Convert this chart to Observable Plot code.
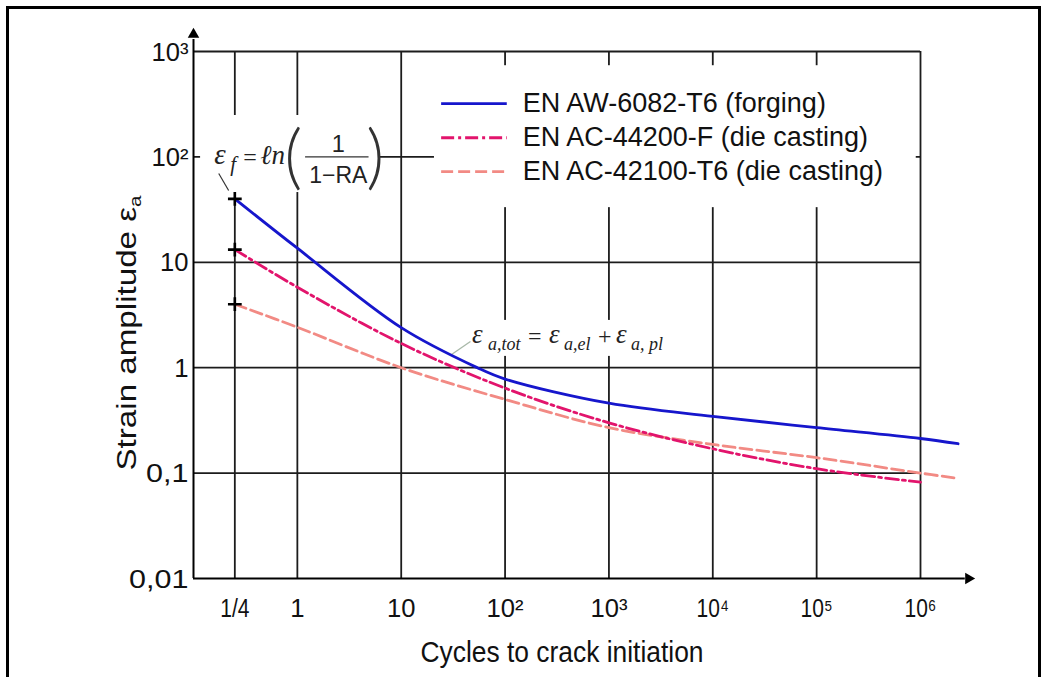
<!DOCTYPE html>
<html><head><meta charset="utf-8">
<script src="https://cdn.jsdelivr.net/npm/d3@7"></script>
<script src="https://cdn.jsdelivr.net/npm/@observablehq/plot@0.6"></script>
<style>
html,body{margin:0;padding:0;background:#fff;overflow:hidden}
#wrap{position:relative;width:1049px;height:677px;overflow:hidden}
#frame{position:absolute;left:6px;top:6px;width:1029px;height:720px;border:3px solid #000;pointer-events:none}
</style></head><body><div id="wrap"><div id="chart"></div><div id="frame"></div></div>
<script>
// ---- data ----
const seriesNames = ["EN AW-6082-T6 (forging)", "EN AC-44200-F (die casting)", "EN AC-42100-T6 (die casting)"];
const seriesColors = ["#1616cc", "#e2146c", "#f28a84"];
const seriesDash = [null, "13,4,3,4", "12,5"];

const cyclesAW6082 = [0.25, 1, 10, 54, 100, 1e3, 1e4, 1e5, 1e6, 2.3e6];
const strainAW6082 = [40, 13.6, 2.4, 1.0, 0.78, 0.46, 0.345, 0.27, 0.213, 0.19];

const cyclesAC44200 = [0.25, 1, 10, 100, 1e3, 1e4, 1e5, 1e6];
const strainAC44200 = [13.2, 5.8, 1.7, 0.64, 0.30, 0.17, 0.11, 0.082];

const cyclesAC42100 = [0.25, 1, 10, 100, 1e3, 1e4, 1e5, 1e6, 2.3e6];
const strainAC42100 = [4.0, 2.42, 1.0, 0.5, 0.27, 0.187, 0.14, 0.10, 0.089];

const xTickValues = [0.25, 1, 10, 100, 1e3, 1e4, 1e5, 1e6];
const xTickLabels = ["1/4", "1", "10", "10²", "10³", "10⁴", "10⁵", "10⁶"];
const yTickValues = [0.01, 0.1, 1, 10, 100, 1000];
const yTickLabels = ["0,01", "0,1", "1", "10", "10²", "10³"];
const yGridValues = [0.1, 1, 10, 100, 1000];

const xTitle = "Cycles to crack initiation";
const yTitle = "Strain amplitude εa";

// ---- tables ----
const table = (xs, ys, s) => xs.map((x, i) => ({N: x, eps: ys[i], series: s}));
const dataAW = table(cyclesAW6082, strainAW6082, seriesNames[0]);
const dataAC1 = table(cyclesAC44200, strainAC44200, seriesNames[1]);
const dataAC2 = table(cyclesAC42100, strainAC42100, seriesNames[2]);
const starts = [dataAW[0], dataAC1[0], dataAC2[0]];

const serif = "'Liberation Serif', 'Times New Roman', serif";
const sans = "'Liberation Sans', Arial, sans-serif";
const grid = "#1c1c1c";

// formula pieces: [text, dx, dy, size, italic, family, anchor]
const f1 = [
  ["ε", -83, 7, 29, true, serif, "start"],
  ["f", -67, 14, 21, true, serif, "start"],
  ["=", -54, 8, 24, false, serif, "start"],
  ["ℓn", -37, 7, 27, true, serif, "start"],
  ["1", 41, -5, 23, false, sans, "middle"],
  ["1−RA", 41, 26, 23, false, sans, "middle"]
];
const f2 = [
  ["ε", -33, 7, 27, true, serif],
  ["a,tot", -17, 14, 18, true, serif],
  ["=", 23, 8, 24, false, serif],
  ["ε", 44, 7, 27, true, serif],
  ["a,el", 59, 14, 18, true, serif],
  ["+", 93, 8, 24, false, serif],
  ["ε", 111, 7, 27, true, serif],
  ["a, pl", 126, 14, 18, true, serif]
];

const textPiece = (p, ax, ay) => Plot.text([p[0]], {
  x: ax, y: ay, text: d => d, dx: p[1], dy: p[2], fontSize: p[3],
  fontStyle: p[4] ? "italic" : "normal", fontFamily: p[5], textAnchor: p[6] || "start",
  lineAnchor: "bottom", fill: "#222"
});

const legendY = [320, 152, 72.6];
const parenFont = "Lato, 'DejaVu Sans', sans-serif";

const plot = Plot.plot({
  width: 1049, height: 677,
  marginLeft: 193, marginRight: 129, marginTop: 51, marginBottom: 99,
  x: {type: "log", domain: [0.1, 1e6], axis: null},
  y: {type: "log", domain: [0.01, 1000], axis: null},
  style: {fontFamily: sans, background: "transparent", overflow: "visible"},
  marks: [
    // grid
    Plot.ruleX(xTickValues, {y1: 0.01, y2: 1000, stroke: grid, strokeWidth: 1.8}),
    Plot.ruleY(yGridValues, {x1: 0.1, x2: 1e6, stroke: grid, strokeWidth: 1.8}),
    // axes with arrows
    Plot.ruleY([0.01], {x1: 0.1, x2: 2.7e6, stroke: "#000", strokeWidth: 2}),
    Plot.ruleX([0.1], {y1: 0.01, y2: 1300, stroke: "#000", strokeWidth: 2}),
    Plot.dot([0], {x: 0.1, y: 1450, symbol: "triangle2", r: 5.5, fill: "#000", stroke: "none"}),
    Plot.dot([0], {x: 2.9e6, y: 0.01, symbol: "triangle2", r: 5.5, fill: "#000", stroke: "none", rotate: 90}),
    // white boxes behind annotations and legend
    Plot.rect([0], {x1: 0.117, x2: 6.3, y1: 45.9, y2: 247, fill: "#fff"}),
    Plot.rect([0], {x1: 20.9, x2: 9.1e5, y1: 33, y2: 733, fill: "#fff"}),
    Plot.rect([0], {x1: 44.4, x2: 3740, y1: 1.28, y2: 2.81, fill: "#fff"}),
    // legend
    ...seriesNames.map((s, i) => Plot.ruleY([legendY[i]], {x1: 24.5, x2: 105, stroke: seriesColors[i], strokeWidth: 2.8, strokeDasharray: seriesDash[i]})),
    Plot.text(seriesNames, {x: 148, y: (d, i) => legendY[i], text: d => d, textAnchor: "start", fontSize: 27, fill: "#111"}),
    // formula 1
    ...f1.map(p => textPiece(p, 1, 100)),
    Plot.text(["("], {x: 1, y: 100, text: d => d, dx: -13, dy: 24, fontSize: 70, fontFamily: parenFont, fontWeight: 300, lineAnchor: "bottom", textAnchor: "start", fill: "#333"}),
    Plot.text([")"], {x: 1, y: 100, text: d => d, dx: 69, dy: 24, fontSize: 70, fontFamily: parenFont, fontWeight: 300, lineAnchor: "bottom", textAnchor: "start", fill: "#333"}),
    Plot.ruleY([100], {x1: 1.2, x2: 4.9, stroke: "#333", strokeWidth: 1.2}),
    Plot.link([0], {x1: 0.175, y1: 69.5, x2: 0.218, y2: 48, stroke: "#333", strokeWidth: 1.2}),
    // formula 2
    ...f2.map(p => textPiece(p, 100, 2)),
    Plot.link([0], {x1: 29.8, y1: 1.31, x2: 46.4, y2: 1.776, stroke: "#a8b8a8", strokeWidth: 1.3}),
    // curves
    Plot.line(dataAC2, {x: "N", y: "eps", stroke: seriesColors[2], strokeWidth: 2.8, strokeDasharray: seriesDash[2], curve: "catmull-rom"}),
    Plot.line(dataAC1, {x: "N", y: "eps", stroke: seriesColors[1], strokeWidth: 2.8, strokeDasharray: seriesDash[1], curve: "catmull-rom"}),
    Plot.line(dataAW, {x: "N", y: "eps", stroke: seriesColors[0], strokeWidth: 2.8, curve: "catmull-rom"}),
    Plot.dot(starts, {x: "N", y: "eps", symbol: "plus", r: 4.5, stroke: "#000", strokeWidth: 2.6}),
    // tick labels
    Plot.text(yTickValues, {x: 0.1, y: d => d, text: (d, i) => yTickLabels[i], textAnchor: "end", dx: -5, dy: 1, fontSize: 25, fill: "#111"}),
    Plot.text(xTickValues, {x: d => d, y: 0.01, text: (d, i) => xTickLabels[i], dy: 38, lineAnchor: "bottom", fontSize: 25, fill: "#111"}),
    // titles
    Plot.text([xTitle], {frameAnchor: "bottom", text: d => d, dx: 5, dy: 83, lineAnchor: "bottom", fontSize: 29, fill: "#111"}),
    Plot.text([yTitle], {frameAnchor: "left", text: d => d, rotate: -90, textAnchor: "middle", dx: -66, dy: 18, fontSize: 27, fill: "#111"})
  ]
});
document.getElementById("chart").appendChild(plot);

const texts = d3.select(plot).selectAll("text");
// subscript "a" in the y title
texts.filter(function () { return this.textContent === yTitle; })
  .each(function () {
    const t = d3.select(this);
    t.text("Strain amplitude ε");
    t.append("tspan").attr("font-size", "62%").attr("dy", "0.3em").text("a");
    this.setAttribute("textLength", 275);
    this.setAttribute("lengthAdjust", "spacingAndGlyphs");
  });
// glyph widths as in the reference drawing
const stretch = (labels, k) => texts.filter(function () { return labels.includes(this.textContent); })
  .each(function () {
    const w = this.getComputedTextLength();
    this.setAttribute("textLength", (w * k).toFixed(1));
    this.setAttribute("lengthAdjust", "spacingAndGlyphs");
  });
stretch(yTickLabels, 1.22);
stretch(xTickLabels, 0.84);
stretch([xTitle], 293 / 322);
</script>
</body></html>
